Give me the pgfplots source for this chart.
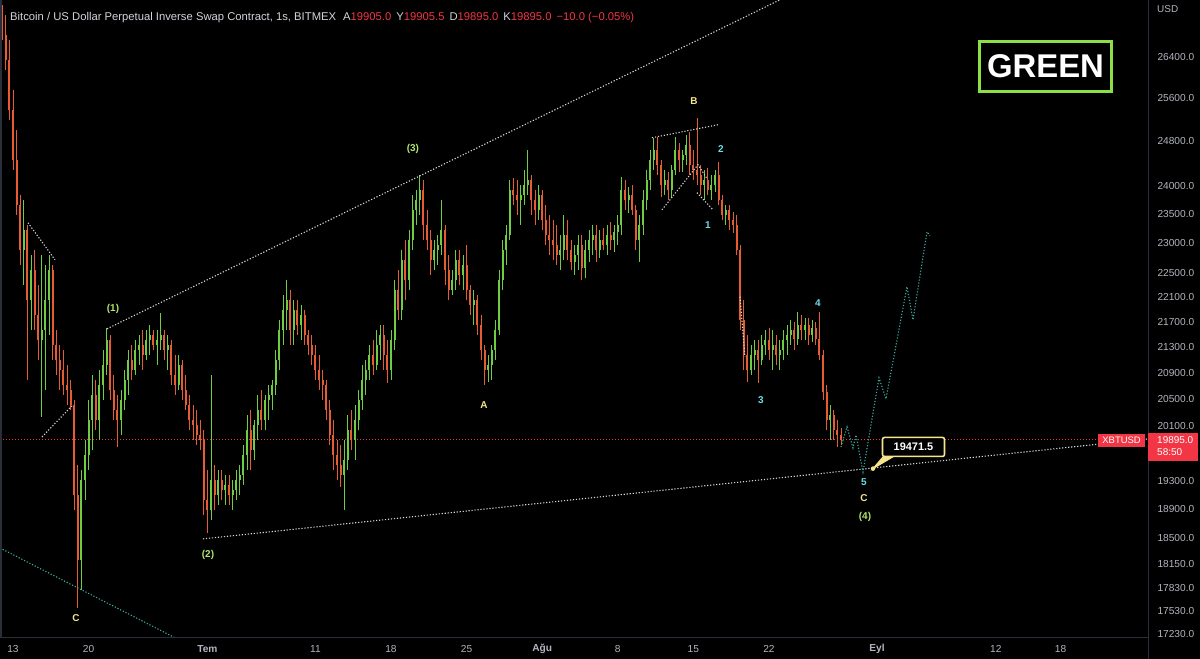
\documentclass[border=0pt]{standalone}
\usepackage{pgfplots}
\pgfplotsset{compat=1.18}
\usepackage{pgfplotstable}
\usepackage{fontspec}
\setmainfont{Liberation Sans}
\definecolor{upc}{RGB}{110,205,65}
\definecolor{dnc}{RGB}{232,92,50}
\definecolor{tickc}{RGB}{178,181,190}
\definecolor{sep}{RGB}{42,46,57}
\definecolor{redv}{RGB}{242,54,69}
\definecolor{wline}{RGB}{215,215,215}
\definecolor{tealc}{RGB}{60,170,160}
\definecolor{lgreen}{RGB}{178,230,110}
\definecolor{lyellow}{RGB}{245,230,140}
\definecolor{lcyan}{RGB}{110,220,232}
\definecolor{boxgreen}{RGB}{140,224,70}
\definecolor{hdr}{RGB}{209,212,220}
\tikzset{lbl/.style={font=\fontsize{10}{12}\selectfont\bfseries, inner sep=0pt}}
\pgfplotstableread{
k o h l c
-3 27133 27434 26735 26834
-2 26834 27233 26147 26341
-1 26341 26735 25199 25386
0 25386 25764 24285 24465
1 24465 25014 23490 23664
2 23664 23841 22638 22890
3 22890 23751 22306 23231
4 23231 23317 20792 22058
5 22058 22806 21575 22555
6 22555 22890 21575 21815
7 21815 22306 21102 21416
8 21416 22806 20231 21575
9 21575 22638 20639 22058
10 22058 22806 21495 22555
11 22555 22638 21102 21337
12 21337 21575 20869 21102
13 21102 21337 20639 20947
14 20947 21258 20563 20716
15 20716 21024 20411 20639
16 20639 20792 20336 20411
17 20411 20486 18886 19098
18 19098 19526 17566 18201
19 18201 19454 17802 19311
20 19311 19890 19026 19671
21 19671 20486 19454 20186
22 20186 20869 19743 20563
23 20563 20792 20037 20186
24 20186 20947 19890 20716
25 20716 21258 20486 21024
26 21024 21607 20869 21416
27 21416 21495 20486 20639
28 20639 20869 20186 20336
29 20336 20563 19788 20186
30 20186 20639 19963 20486
31 20486 20947 20336 20792
32 20792 21258 20563 21102
33 21102 21337 20792 20947
34 20947 21416 20869 21258
35 21258 21495 21024 21337
36 21337 21575 20947 21180
37 21180 21575 21102 21416
38 21416 21655 21180 21495
39 21495 21575 21258 21337
40 21337 21575 21024 21416
41 21416 21847 21258 21495
42 21495 21575 21102 21258
43 21258 21495 20947 21337
44 21337 21416 20716 20869
45 20869 21180 20563 20716
46 20716 21180 20639 21024
47 21024 21102 20486 20639
48 20639 20869 20336 20411
49 20411 20563 20037 20186
50 20186 20411 19890 20112
51 20112 20336 19817 19963
52 19963 20186 19743 19890
53 19890 20037 18817 19026
54 19026 19454 18568 18886
55 18886 20869 18747 19311
56 19311 19526 18886 19098
57 19098 19454 18956 19311
58 19311 19454 19026 19169
59 19169 19382 18956 19240
60 19240 19382 18956 19098
61 19098 19311 18886 19169
62 19169 19454 19026 19311
63 19311 19526 19098 19382
64 19382 19817 19240 19671
65 19671 20261 19454 20037
66 20037 20336 19454 19743
67 19743 20186 19598 20112
68 20112 20563 19890 20336
69 20336 20639 20037 20186
70 20186 20563 20037 20486
71 20486 20716 20186 20563
72 20563 20792 20336 20716
73 20716 21258 20563 21102
74 21102 21735 20947 21575
75 21575 22142 21337 21896
76 21896 22389 21575 22058
77 22058 22224 21337 21575
78 21575 22058 21337 21896
79 21896 22058 21495 21655
80 21655 21977 21416 21815
81 21815 21896 21337 21495
82 21495 21575 21180 21337
83 21337 21495 21024 21180
84 21180 21337 20792 20947
85 20947 21180 20639 20792
86 20792 20947 20486 20716
87 20716 20792 20186 20336
88 20336 20486 19817 19963
89 19963 20186 19454 19671
90 19671 19890 19311 19526
91 19526 19817 19212 19382
92 19382 19890 18886 19598
93 19598 20261 19454 20037
94 20037 20336 19743 19890
95 19890 20411 19598 20186
96 20186 20639 20037 20486
97 20486 21024 20336 20792
98 20792 21102 20563 20947
99 20947 21337 20792 21180
100 21180 21416 20869 21024
101 21024 21575 20947 21337
102 21337 21655 21102 21495
103 21495 21655 20947 21180
104 21180 21416 20746 20947
105 20947 21575 20792 21416
106 21416 22389 21258 22224
107 22224 22555 21735 21896
108 21896 22890 21735 22722
109 22722 23060 22058 22389
110 22389 23231 22224 23060
111 23060 23841 22890 23577
112 23577 23929 23317 23751
113 23751 24196 23490 23929
114 23929 24107 23060 23317
115 23317 23577 22890 23060
116 23060 23231 22471 22722
117 22722 23060 22555 22890
118 22890 23145 22638 22975
119 22975 23751 22806 23231
120 23231 23317 22306 22555
121 22555 22806 22058 22224
122 22224 22555 22142 22389
123 22389 22890 22224 22722
124 22722 22890 22306 22471
125 22471 22806 22224 22638
126 22638 22975 22058 22224
127 22224 22306 21815 21977
128 21977 22224 21655 22058
129 22058 22142 21495 21655
130 21655 21815 21102 21258
131 21258 21337 20716 20947
132 20947 21180 20761 21024
133 21024 21337 20792 21258
134 21258 21735 21102 21575
135 21575 22555 21495 22389
136 22389 23060 22224 22890
137 22890 23317 22638 23145
138 23145 24107 23060 23929
139 23929 24142 23664 23841
140 23841 24107 23490 23751
141 23751 24018 23317 23841
142 23841 24285 23664 24018
143 24018 24647 23841 24107
144 24107 24196 23490 23751
145 23751 23929 23317 23577
146 23577 24018 23403 23841
147 23841 23929 23231 23403
148 23403 23664 22975 23145
149 23145 23490 22806 23060
150 23060 23403 22722 22975
151 22975 23317 22638 22806
152 22806 23145 22555 22890
153 22890 23490 22722 23145
154 23145 23403 22722 22890
155 22890 23060 22555 22689
156 22689 22975 22471 22806
157 22806 23145 22555 22975
158 22975 23145 22389 22588
159 22588 23060 22422 22890
160 22890 23231 22689 23060
161 23060 23317 22806 23145
162 23145 23317 22689 22890
163 22890 23231 22756 23060
164 23060 23265 22890 22975
165 22975 23317 22806 23145
166 23145 23369 22890 23060
167 23060 23317 22856 23197
168 23197 23490 22975 23317
169 23317 24160 23145 23929
170 23929 24107 23577 23751
171 23751 23983 23525 23841
172 23841 24018 23490 23577
173 23577 23664 22890 23060
174 23060 23490 22689 23317
175 23317 23929 23145 23751
176 23751 24285 23577 24107
177 24107 24647 23929 24465
178 24465 24866 24285 24647
179 24647 24884 24196 24375
180 24375 24465 23806 24018
181 24018 24285 23841 24107
182 24107 24249 23751 23929
183 23929 24375 23786 24285
184 24285 24884 24196 24647
185 24647 24775 24249 24465
186 24465 24647 24249 24556
187 24556 24921 24375 24738
188 24738 24977 24196 24375
189 24375 24647 24107 24285
190 24285 25237 24018 24196
191 24196 24375 23841 24018
192 24018 24285 23751 24107
193 24107 24321 23841 23929
194 23929 24196 23751 24018
195 24018 24285 23894 24196
196 24196 24429 23664 23751
197 23751 23841 23403 23490
198 23490 23664 23317 23577
199 23577 23664 23231 23403
200 23403 23542 23180 23317
201 23317 23490 22806 22890
202 22890 22975 21575 21735
203 21735 22058 20947 21180
204 21180 21495 20761 20947
205 20947 21337 20869 21180
206 21180 21416 20947 21258
207 21258 21416 20746 21102
208 21102 21495 21024 21337
209 21337 21575 21180 21416
210 21416 21607 21102 21258
211 21258 21575 20947 21337
212 21337 21495 21024 21180
213 21180 21416 20947 21258
214 21258 21575 21102 21416
215 21416 21655 21180 21495
216 21495 21735 21337 21575
217 21575 21703 21258 21432
218 21432 21864 21337 21655
219 21655 21815 21416 21575
220 21575 21767 21416 21655
221 21655 21767 21337 21495
222 21495 21735 21384 21607
223 21607 21703 21337 21432
224 21432 21864 21102 21180
225 21180 21258 20486 20609
226 20609 20716 20037 20186
227 20186 20411 19890 20261
228 20261 20336 19890 20037
229 20037 20186 19788 19963
230 19963 20067 19817 19895
}\candles
\begin{document}
\begin{tikzpicture}
\fill[black] (0bp,0bp) rectangle (1200bp,-659bp);
\begin{axis}[
  at={(0bp,0bp)}, anchor=north west,
  width=1148bp, height=637bp, scale only axis,
  xmin=-3.611, xmax=315.28,
  ymode=log, ymin=17194, ymax=27536,
  axis line style={draw=none},
  major tick length=0pt, minor tick length=0pt,
  tick style={draw=none},
  xtick={0,21,54,84,105,126,147,168,189,210,240,273,291},
  xticklabels={13,20,\textbf{Tem},11,18,25,\textbf{Ağu},8,15,22,\textbf{Eyl},12,18},
  ytick={17230,17530,17830,18150,18500,18900,19300,20100,20500,20900,21300,21700,22100,22500,23000,23500,24000,24800,25600,26400},
  yticklabels={17230.0,17530.0,17830.0,18150.0,18500.0,18900.0,19300.0,20100.0,20500.0,20900.0,21300.0,21700.0,22100.0,22500.0,23000.0,23500.0,24000.0,24800.0,25600.0,26400.0},
  yticklabel pos=right,
  ticklabel style={font=\fontsize{10.2}{12}\selectfont, text=tickc},
  xticklabel style={anchor=center, yshift=-12bp},
  yticklabel style={anchor=west, xshift=6bp},
  clip=true,
]
% price line
\addplot[redv, line width=0.9bp, dash pattern=on 1bp off 2bp, forget plot] coordinates {(-3.611,19895) (315.28,19895)};
% wicks
\addplot[draw=none, mark=none, forget plot,
  restrict expr to domain={\thisrow{c}-\thisrow{o}}{0:100000},
  error bars/.cd, y dir=plus, y explicit, error mark=none,
  error bar style={line width=0.9bp, draw=upc, solid}]
  table[x=k, y=l, y error plus expr=\thisrow{h}-\thisrow{l}] {\candles};
\addplot[draw=none, mark=none, forget plot,
  restrict expr to domain={\thisrow{o}-\thisrow{c}}{0.5:100000},
  error bars/.cd, y dir=plus, y explicit, error mark=none,
  error bar style={line width=0.9bp, draw=dnc, solid}]
  table[x=k, y=l, y error plus expr=\thisrow{h}-\thisrow{l}] {\candles};
% bodies
\addplot[draw=none, mark=none, forget plot,
  restrict expr to domain={\thisrow{c}-\thisrow{o}}{0:100000},
  error bars/.cd, y dir=plus, y explicit, error mark=none,
  error bar style={line width=2bp, draw=upc, solid}]
  table[x=k, y=o, y error plus expr=\thisrow{c}-\thisrow{o}] {\candles};
\addplot[draw=none, mark=none, forget plot,
  restrict expr to domain={\thisrow{o}-\thisrow{c}}{0.5:100000},
  error bars/.cd, y dir=plus, y explicit, error mark=none,
  error bar style={line width=2bp, draw=dnc, solid}]
  table[x=k, y=c, y error plus expr=\thisrow{o}-\thisrow{c}] {\candles};
% trend lines
\addplot[wline, line width=1.1bp, dash pattern=on 1.2bp off 1.8bp, forget plot] coordinates {(26.1,21591) (215,27606)};
\addplot[wline, line width=1.1bp, dash pattern=on 1.2bp off 1.8bp, forget plot] coordinates {(52.78,18486) (315.28,19905)};
\addplot[tealc, line width=1.1bp, dash pattern=on 1.2bp off 1.8bp, forget plot] coordinates {(-3.611,18363) (46,17160)};
\addplot[wline, line width=1.1bp, dash pattern=on 1.2bp off 1.8bp, forget plot] coordinates {(4.17,23351) (11.67,22722)};
\addplot[wline, line width=1.1bp, dash pattern=on 1.2bp off 1.8bp, forget plot] coordinates {(8.06,19934) (16.39,20396)};
\addplot[wline, line width=1.1bp, dash pattern=on 1.2bp off 1.8bp, forget plot] coordinates {(177.5,24866) (195.8,25106)};
\addplot[wline, line width=1.1bp, dash pattern=on 1.2bp off 1.8bp, forget plot] coordinates {(180.28,23577) (190.28,24375) (192.78,24125)};
\addplot[wline, line width=1.1bp, dash pattern=on 1.2bp off 1.8bp, forget plot] coordinates {(190,23876) (194.44,23577)};
\addplot[wline, line width=1.1bp, dash pattern=on 1.2bp off 1.8bp, forget plot] coordinates {(201.94,22109) (203.33,21149)};
% projection
\addplot[tealc, line width=1.1bp, dash pattern=on 1.2bp off 1.8bp, forget plot] coordinates {
(230,19788) (231.67,20082) (233.33,19773) (234.17,19963) (236.11,19425) (240.56,20823) (242.5,20502) (248.33,22273) (250,21735) (253.89,23197) (254.72,23128)};
% callout
\addplot[lyellow, fill=lyellow, line width=1bp, forget plot] coordinates {(238.89,19471.5) (241.67,19642) (244.44,19642)} -- cycle;
\addplot[only marks, mark=*, mark size=2bp, lyellow, forget plot] coordinates {(238.89,19471.5)};
\node[draw=lyellow, fill=black, line width=1.6bp, rounded corners=2bp, minimum width=62bp, minimum height=19bp, inner sep=0pt, text=white, font=\fontsize{11}{13}\selectfont\bfseries] at (axis cs:250.14,19788) {19471.5};
% wave labels
\node[lbl, text=lgreen] at (axis cs:27.78,21912) {(1)};
\node[lbl, text=lgreen] at (axis cs:54.17,18268) {(2)};
\node[lbl, text=lgreen] at (axis cs:111.1,24665) {(3)};
\node[lbl, text=lgreen] at (axis cs:236.67,18790) {(4)};
\node[lbl, text=lyellow] at (axis cs:130.83,20411) {A};
\node[lbl, text=lyellow] at (axis cs:189.17,25555) {B};
\node[lbl, text=lyellow] at (axis cs:17.5,17437) {C};
\node[lbl, text=lyellow] at (axis cs:236.39,19055) {C};
\node[lbl, text=lcyan] at (axis cs:193.06,23317) {1};
\node[lbl, text=lcyan] at (axis cs:196.67,24665) {2};
\node[lbl, text=lcyan] at (axis cs:207.78,20486) {3};
\node[lbl, text=lcyan] at (axis cs:223.61,22010) {4};
\node[lbl, text=lcyan] at (axis cs:236.39,19283) {5};
\end{axis}
% frame
\draw[sep, line width=1bp] (1148bp,0bp) -- (1148bp,-659bp);
\draw[sep, line width=1bp] (0bp,-637bp) -- (1148bp,-637bp);
\draw[sep, line width=1.5bp] (1bp,0bp) -- (1bp,-637bp);
% header
\node[anchor=base west, inner sep=0pt, text=hdr, font=\fontsize{11.3}{13}\selectfont] at (10bp,-20.5bp) {Bitcoin / US Dollar Perpetual Inverse Swap Contract, 1s, BITMEX\hspace{7bp}A\textcolor{redv}{19905.0}\hspace{5bp}Y\textcolor{redv}{19905.5}\hspace{5bp}D\textcolor{redv}{19895.0}\hspace{5bp}K\textcolor{redv}{19895.0}\hspace{5bp}\textcolor{redv}{−10.0 (−0.05\%)}};
% GREEN box
\node[draw=boxgreen, line width=3bp, minimum width=132bp, minimum height=50bp, inner sep=0pt, text=white, font=\fontsize{33}{38}\selectfont\bfseries] at (1045.5bp,-66.5bp) {GREEN};
% USD
\node[anchor=west, inner sep=0pt, text=tickc, font=\fontsize{10}{12}\selectfont] at (1157bp,-9bp) {USD};
% price labels
\node[fill=redv, anchor=east, minimum height=13bp, inner xsep=4bp, inner ysep=0pt, text=white, font=\fontsize{9.5}{11}\selectfont] at (1145bp,-440bp) {XBTUSD};
\node[fill=redv, anchor=north west, minimum width=50bp, minimum height=28bp, inner sep=0pt] at (1148bp,-433bp) {};
\node[anchor=west, inner sep=0pt, text=white, font=\fontsize{10}{12}\selectfont] at (1157bp,-440bp) {19895.0};
\node[anchor=west, inner sep=0pt, text=white, font=\fontsize{10}{12}\selectfont] at (1157bp,-452bp) {58:50};
\pgfresetboundingbox
\path[use as bounding box] (0bp,0bp) rectangle (1200bp,-659bp);
\end{tikzpicture}
\end{document}
